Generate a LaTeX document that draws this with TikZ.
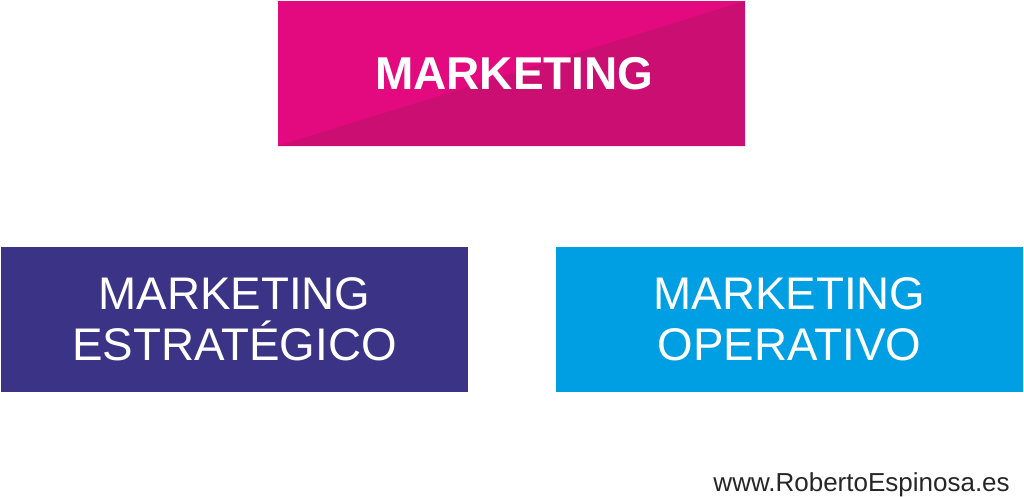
\documentclass[tikz,border=0pt]{standalone}
\usepackage{fontspec}
\setmainfont{Liberation Sans}
\usepackage{xcolor}

\definecolor{mkpink}{HTML}{E3097F}
\definecolor{mkpinkdark}{HTML}{CB0E71}
\definecolor{mkindigo}{HTML}{3B3386}
\definecolor{mkcyan}{HTML}{009FE3}

\tikzset{
  mkbox/.style={minimum width=350.25pt,minimum height=108.75pt,inner sep=0pt,
    text=white,align=center,font=\fontsize{34.3}{38}\selectfont},
}

\begin{document}
\begin{tikzpicture}[x=0.75pt,y=-0.75pt]
\useasboundingbox (0,0) rectangle (1024,496);
\node[mkbox,fill=mkpink,font=\fontsize{34.5}{40}\selectfont\bfseries,
  path picture={\fill[mkpinkdark] (path picture bounding box.south west)
    -- (path picture bounding box.north east)
    -- (path picture bounding box.south east) -- cycle;}]
  (marketing) at (511.5,73.5) {\hspace*{4.5pt}MARKETING};
\node[mkbox,fill=mkindigo] (estrategico) at (234.5,319) {MARKETING\\ESTRATÉGICO};
\node[mkbox,fill=mkcyan] (operativo) at (789.5,319) {MARKETING\\OPERATIVO};
\node[anchor=base east,inner sep=0pt,font=\fontsize{19.5}{23}\selectfont,text=black!85]
  (web) at (1010,491) {www.RobertoEspinosa.es};
\end{tikzpicture}
\end{document}
